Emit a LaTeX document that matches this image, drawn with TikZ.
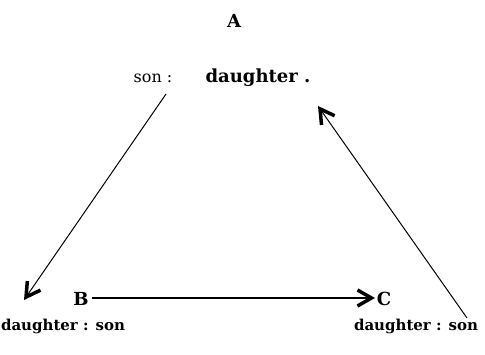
\documentclass[tikz,border=0pt]{standalone}
\usepackage{fontspec}
\setmainfont{DejaVu Serif}
\usetikzlibrary{arrows.meta}
\begin{document}
\begin{tikzpicture}[x=1pt,y=-1pt,
  lab/.style={font=\fontsize{15}{18}\selectfont\bfseries, inner sep=0pt, anchor=base},
  big/.style={font=\fontsize{18}{20}\selectfont\bfseries, inner sep=0pt, anchor=base},
  labr/.style={font=\fontsize{16}{18}\selectfont, inner sep=0pt, anchor=base},
  conn/.style={line width=1pt, -{Straight Barb[length=14pt,width=16pt,line width=3.5pt]}}]
\useasboundingbox (0,0) rectangle (485,354);
\node[big] (A) at (234,27) {A};
\node[labr] (son) at (153,82) {son :};
\node[big] (dau) at (258,82) {daughter .};
\node[big] (B) at (81,305) {B};
\node[big] (C) at (384,305) {C};
\node[lab] (dl) at (63,330) {daughter : son};
\node[lab] (dr) at (416,330) {daughter : son};
\coordinate (p1) at (166,94);
\coordinate (p2) at (24,300);
\coordinate (q1) at (467,318);
\coordinate (q2) at (318,106);
\coordinate (b1) at (92,298);
\coordinate (c1) at (375,298);
\draw[conn] (p1) -- (p2);
\draw[conn] (q1) -- (q2);
\draw[conn, line width=1.4pt] (b1) -- (c1);
\end{tikzpicture}
\end{document}
